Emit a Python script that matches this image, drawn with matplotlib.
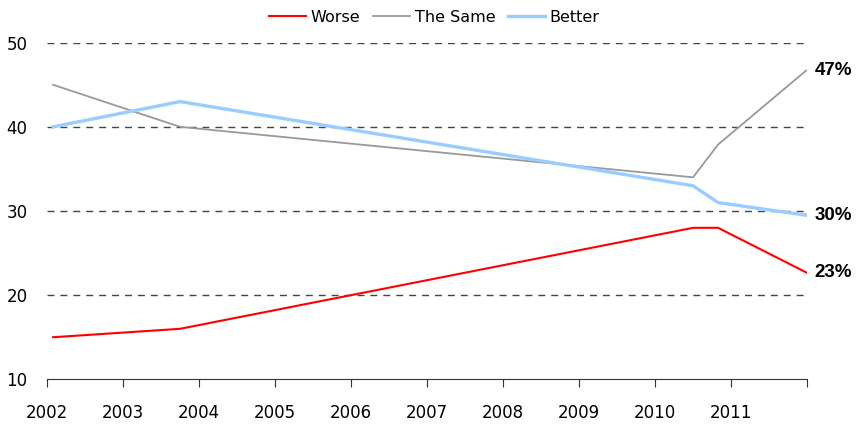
import matplotlib.pyplot as plt

# Data
years = [2002.08, 2003.75, 2010.5, 2010.83, 2011.99]
worse = [15, 16, 28, 28, 22.7]
same = [45, 40, 34, 37.9, 46.7]
better = [40, 43, 33, 31, 29.5]
end_labels = ["23%", "47%", "30%"]
tick_years = list(range(2002, 2013))
tick_labels = [str(y) for y in range(2002, 2012)] + [""]

plt.rcParams["font.family"] = ["DejaVu Sans"]

fig = plt.figure(figsize=(8.58, 4.26), dpi=100)
ax = fig.add_axes([0.0548, 0.1096, 0.8858, 0.7902])

ax.plot(years, worse, color="#ff0000", lw=1.5, label="Worse", zorder=3)
ax.plot(years, same, color="#999999", lw=1.3, label="The Same", zorder=3)
ax.plot(years, better, color="#99ccff", lw=2.4, label="Better", zorder=3)

# End labels
for series, txt in zip([worse, same, better], end_labels):
    ax.text(years[-1] + 0.11, series[-1], txt, fontsize=13.5, fontweight="bold",
            family="Liberation Sans", va="center", ha="left")

ax.set_xlim(2002, 2012)
ax.set_ylim(10, 50)
ax.set_xticks(tick_years)
ax.set_xticklabels(tick_labels)
ax.set_yticks([10, 20, 30, 40, 50])

for y in [20, 30, 40, 50]:
    ax.axhline(y, color="#444444", lw=1, ls=(0, (5, 4.3)), zorder=1)

for s in ["left", "right", "top"]:
    ax.spines[s].set_visible(False)
ax.spines["bottom"].set_color("#333333")
ax.tick_params(axis="x", length=6, pad=12, labelsize=12, color="#333333")
ax.tick_params(axis="y", length=0, pad=14, labelsize=12)

ax.legend(loc="lower center", bbox_to_anchor=(0.51, 1.035), ncol=3, frameon=False,
          fontsize=11.5, handlelength=2.3, handletextpad=0.3, columnspacing=0.8,
          borderaxespad=0)

fig.savefig("out.png", dpi=100)
